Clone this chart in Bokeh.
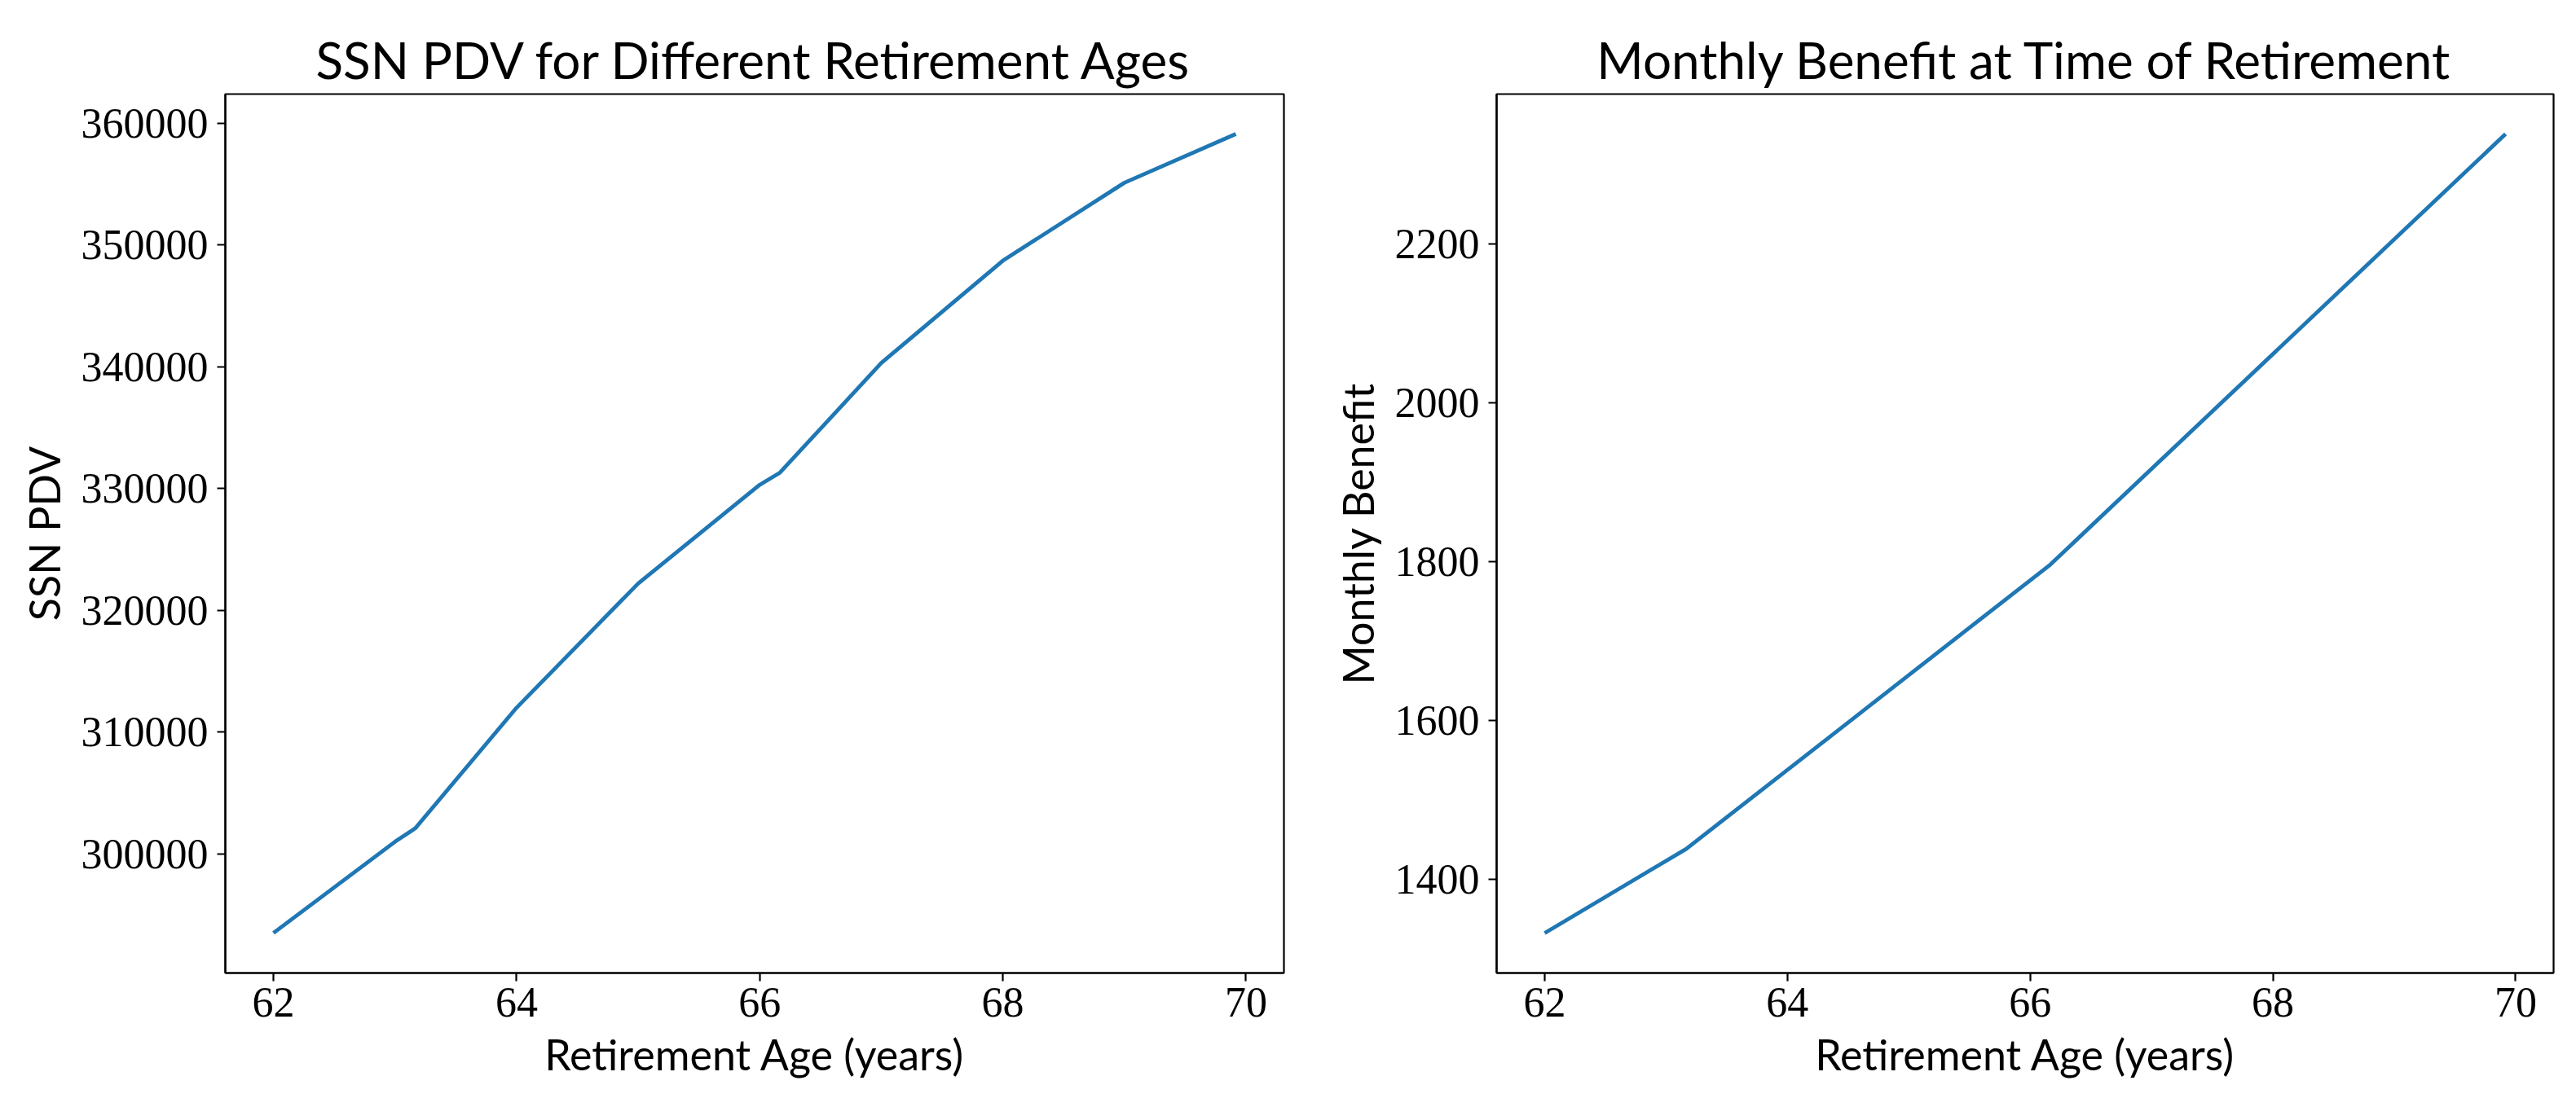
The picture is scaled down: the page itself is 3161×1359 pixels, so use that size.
from bokeh.plotting import figure
from bokeh.layouts import row
from bokeh.models import ColumnDataSource, Range1d, FixedTicker, PrintfTickFormatter
from bokeh.embed import file_html
from bokeh.resources import INLINE

# ---- data ----
ages_pdv = [62.0, 63.0, 63 + 2 / 12, 64.0, 65.0, 66.0, 66 + 2 / 12, 67.0, 68.0, 69.0, 69 + 11 / 12]
pdv = [293500, 301000, 302100, 312000, 322200, 330300, 331300, 340300, 348700, 355100, 359100]

ages_ben = [62.0, 63 + 2 / 12, 66 + 2 / 12, 69 + 11 / 12]
benefit = [1332, 1438, 1796, 2338]

x_ticks = [62, 64, 66, 68, 70]
pdv_ticks = [300000, 310000, 320000, 330000, 340000, 350000, 360000]
ben_ticks = [1400, 1600, 1800, 2000, 2200]

TITLE_FONT = "Lato"
LABEL_FONT = "Lato"
TICK_FONT = "Liberation Serif"
LINE_COLOR = "#1f77b4"


def padded(vals, frac=0.05):
    lo, hi = min(vals), max(vals)
    span = hi - lo
    return Range1d(lo - frac * span, hi + frac * span)


def make_fig(title, ylabel, xs, ys, yticks, border_left, border_right, fw):
    p = figure(
        frame_width=fw, frame_height=1079,
        min_border_left=border_left, min_border_right=border_right,
        min_border_top=115, min_border_bottom=157,
        x_range=padded(xs), y_range=padded(ys),
        output_backend="svg", toolbar_location=None,
        title=title,
    )
    p.title.text_font = TITLE_FONT
    p.title.text_font_size = "62px"
    p.title.text_font_style = "normal"
    p.title.align = "center"
    p.title.text_color = "black"
    p.title.standoff = 12

    p.xgrid.visible = False
    p.ygrid.visible = False
    p.outline_line_color = "black"
    p.outline_line_width = 2.2
    p.outline_line_alpha = 1.0

    for ax in (p.xaxis[0], p.yaxis[0]):
        ax.axis_line_color = "black"
        ax.axis_line_width = 2.2
        ax.major_tick_line_color = "black"
        ax.major_tick_line_width = 2.2
        ax.major_tick_out = 10
        ax.major_tick_in = 0
        ax.minor_tick_line_color = None
        ax.major_label_text_font = TICK_FONT
        ax.major_label_text_font_size = "52px"
        ax.major_label_text_color = "black"
        ax.axis_label_text_font = LABEL_FONT
        ax.axis_label_text_font_size = "52px"
        ax.axis_label_text_font_style = "normal"
        ax.axis_label_text_color = "black"
        ax.formatter = PrintfTickFormatter(format="%d")

    p.xaxis[0].ticker = FixedTicker(ticks=x_ticks)
    p.yaxis[0].ticker = FixedTicker(ticks=yticks)
    p.xaxis[0].axis_label = "Retirement Age (years)"
    p.yaxis[0].axis_label = ylabel
    p.xaxis[0].major_label_standoff = 8
    p.yaxis[0].major_label_standoff = 11
    p.xaxis[0].axis_label_standoff = 12
    p.yaxis[0].axis_label_standoff = 12

    src = ColumnDataSource(data=dict(x=xs, y=ys))
    p.line("x", "y", source=src, line_color=LINE_COLOR, line_width=4.8,
           line_join="round")
    return p


p1 = make_fig("SSN PDV for Different Retirement Ages", "SSN PDV",
              ages_pdv, pdv, pdv_ticks, 276, 12, 1299)
p2 = make_fig("Monthly Benefit at Time of Retirement", "Monthly Benefit",
              ages_ben, benefit, ben_ticks, 249, 20, 1297)

layout = row(p1, p2)
open("out.html", "w").write(file_html(layout, INLINE))
